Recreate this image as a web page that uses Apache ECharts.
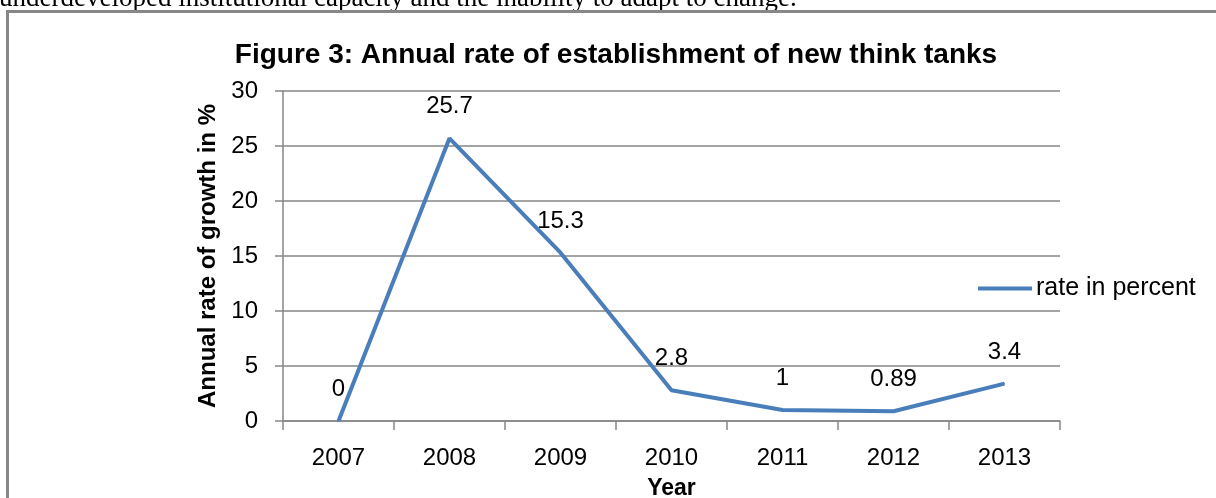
<!DOCTYPE html>
<html>
<head>
<meta charset="utf-8">
<script src="https://cdn.jsdelivr.net/npm/echarts@6/dist/echarts.min.js"></script>
<style>
html,body{margin:0;padding:0;background:#fff;}
#chart{width:1216px;height:498px;}
</style>
</head>
<body>
<div id="chart"></div>
<script>
const years = ['2007','2008','2009','2010','2011','2012','2013'];
const rateValues = [0, 25.7, 15.3, 2.8, 1, 0.89, 3.4];
const yTicks = [0, 5, 10, 15, 20, 25, 30];
const seriesName = 'rate in percent';
const titleText = 'Figure 3: Annual rate of establishment of new think tanks';
const yAxisName = 'Annual rate of growth in %';
const xAxisName = 'Year';
const aboveText = 'underdeveloped institutional capacity and the inability to adapt to change.';

const FONT = '"Liberation Sans", Arial, sans-serif';
const chart = echarts.init(document.getElementById('chart'), null, {renderer: 'canvas'});
chart.setOption({
  animation: false,
  backgroundColor: '#fff',
  title: {
    text: titleText,
    left: 616, top: 41, textAlign: 'center', padding: 0,
    textStyle: {fontFamily: FONT, fontWeight: 'bold', fontSize: 28, color: '#000'}
  },
  graphic: [
    {type: 'rect', shape: {x: 7.5, y: 11.5, width: 1400, height: 700},
     style: {fill: null, stroke: '#878787', lineWidth: 3}, silent: true, z: 10},
    {type: 'text', left: -1, top: -15,
     style: {text: aboveText, font: '27px "Liberation Serif", "Times New Roman", serif', fill: '#000'}}
  ],
  legend: {
    data: [{name: seriesName, icon: 'rect'}],
    left: 978, top: 276, padding: 0,
    itemWidth: 54, itemHeight: 4, itemGap: 4,
    textStyle: {fontFamily: FONT, fontSize: 25, color: '#000', padding: [0, 0, 0, -1]}
  },
  grid: {left: 283, right: 156, top: 91, bottom: 77, containLabel: false, outerBoundsMode: 'none'},
  xAxis: {
    type: 'category',
    data: years,
    name: xAxisName,
    nameLocation: 'middle',
    nameGap: 56,
    nameTextStyle: {fontFamily: FONT, fontWeight: 'bold', fontSize: 23, color: '#000'},
    axisLine: {lineStyle: {color: '#868686', width: 1.5}},
    axisTick: {show: true, length: 9, lineStyle: {color: '#868686', width: 1.5}},
    axisLabel: {fontFamily: FONT, fontSize: 24, color: '#000', margin: 25}
  },
  yAxis: {
    type: 'value',
    min: 0, max: 30, interval: 5,
    name: yAxisName,
    nameLocation: 'middle',
    nameGap: 58,
    nameTextStyle: {fontFamily: FONT, fontWeight: 'bold', fontSize: 24, color: '#000'},
    axisLine: {show: true, lineStyle: {color: '#868686', width: 1.5}},
    axisTick: {show: true, length: 8, lineStyle: {color: '#868686', width: 1.5}},
    splitLine: {show: true, lineStyle: {color: '#868686', width: 1.5}},
    axisLabel: {fontFamily: FONT, fontSize: 24, color: '#000', margin: 25,
      formatter: v => yTicks.includes(v) ? String(v) : ''}
  },
  series: [{
    name: seriesName,
    type: 'line',
    data: rateValues,
    symbol: 'circle',
    symbolSize: 1,
    showSymbol: true,
    lineStyle: {color: '#4a7ebb', width: 4},
    itemStyle: {color: '#4a7ebb'},
    label: {show: true, position: 'top', distance: 19,
      fontFamily: FONT, fontSize: 24, color: '#000'}
  }]
});
</script>
</body>
</html>
